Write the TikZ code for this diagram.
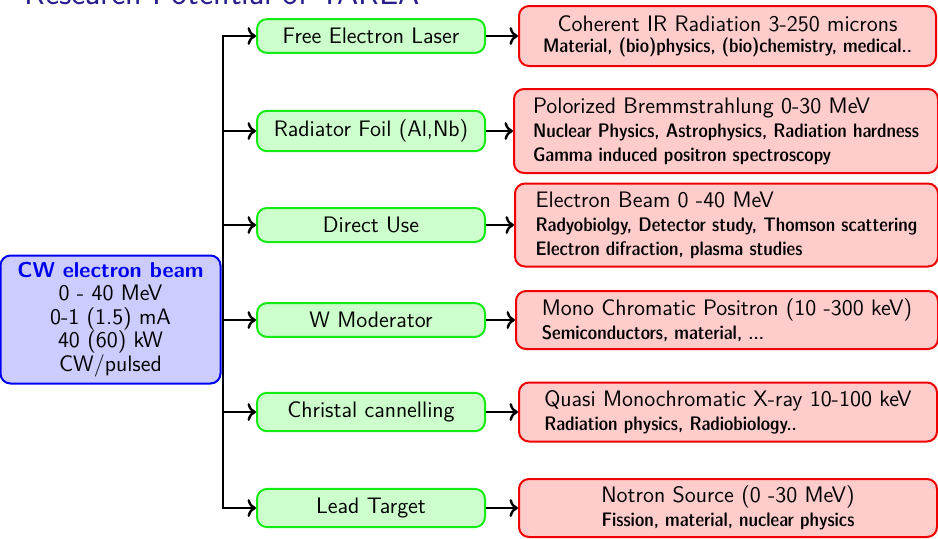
\documentclass[tikz,border=0pt]{standalone}
\usetikzlibrary{arrows.meta}
\definecolor{titleblue}{RGB}{40,30,140}
\definecolor{gfill}{RGB}{204,255,204}
\definecolor{gdraw}{RGB}{20,235,20}
\definecolor{rfill}{RGB}{255,204,204}
\definecolor{rdraw}{RGB}{240,0,0}
\definecolor{bfill}{RGB}{204,204,255}
\definecolor{bdraw}{RGB}{0,0,240}
\newcommand{\subl}{\fontsize{9.8}{12}\fontseries{sbc}\selectfont}
\begin{document}
\begin{tikzpicture}[x=0.5pt,y=-0.5pt,
  every node/.style={font=\sffamily\fontsize{11.2}{12}\selectfont},
  bluebox/.style={draw=bdraw, fill=bfill, line width=1pt, rounded corners=5pt,
    minimum width=110pt, minimum height=64pt, align=center, inner sep=0pt,
    font=\sffamily\fontsize{11.2}{11.75}\selectfont},
  greenbox/.style={draw=gdraw, fill=gfill, line width=1pt, rounded corners=5pt,
    minimum width=114pt, inner ysep=4.5pt},
  redbox/.style={draw=rdraw, fill=rfill, line width=1pt, rounded corners=5pt, inner sep=2pt, anchor=west},
  conn/.style={line width=1.2pt, ->},
  bus/.style={line width=1.2pt}
]
\useasboundingbox (0,0) rectangle (938,538);

\node[anchor=base west, font=\sffamily\fontsize{17}{19}\selectfont, text=titleblue, inner sep=0pt] (title) at (24,4) {Research Potential of YAREA};

\node[bluebox] (beam) at (110.5,319.5) {{\color{bdraw}\bfseries\fontsize{10.8}{11.75}\selectfont CW electron beam}\\0 - 40 MeV\\0-1 (1.5) mA\\40 (60) kW\\CW/pulsed};

\node[greenbox] (fel) at (371,36) {Free Electron Laser};
\node[greenbox] (rad) at (371,131) {Radiator Foil (Al,Nb)};
\node[greenbox] (dir) at (371,225) {Direct Use};
\node[greenbox] (wmod) at (371,320) {W Moderator};
\node[greenbox] (chr) at (371,412) {Christal cannelling};
\node[greenbox] (lead) at (371,508) {Lead Target};

\node[redbox, minimum width=208.5pt, minimum height=30pt, align=center,
  font=\sffamily\fontsize{11.2}{10.5}\selectfont] (rfel) at (518,36)
  {Coherent IR Radiation 3-250 microns\\{\subl Material, (bio)physics, (bio)chemistry, medical..}};
\node[redbox, minimum width=212pt, minimum height=42pt, align=left] (rrad) at (513,131)
  {Polorized Bremmstrahlung 0-30 MeV\\{\subl Nuclear Physics, Astrophysics, Radiation hardness}\\{\subl Gamma induced positron spectroscopy}};
\node[redbox, minimum width=211.5pt, minimum height=41.5pt, align=left] (rdir) at (514,225)
  {Electron Beam 0 -40 MeV\\{\subl Radyobiolgy, Detector study, Thomson scattering}\\{\subl Electron difraction, plasma studies}};
\node[redbox, minimum width=211pt, minimum height=29pt, align=left] (rmono) at (515,320)
  {Mono Chromatic Positron (10 -300 keV)\\{\subl Semiconductors, material, ...}};
\node[redbox, minimum width=209pt, minimum height=29.5pt, align=left] (rquasi) at (518,412)
  {Quasi Monochromatic X-ray 10-100 keV\\{\subl Radiation physics, Radiobiology..}};
\node[redbox, minimum width=209pt, minimum height=29pt, align=center] (rnot) at (518,508)
  {Notron Source (0 -30 MeV)\\{\subl Fission, material, nuclear physics}};

\coordinate (j) at (223,320);
\draw[bus] (beam.east |- j) -- (j);
\foreach \g in {fel,rad,dir,wmod,chr,lead} {
  \draw[conn] (j) |- (\g.west);
}
\draw[conn] (fel.east) -- (rfel.west);
\draw[conn] (rad.east) -- (rrad.west);
\draw[conn] (dir.east) -- (rdir.west);
\draw[conn] (wmod.east) -- (rmono.west);
\draw[conn] (chr.east) -- (rquasi.west);
\draw[conn] (lead.east) -- (rnot.west);
\end{tikzpicture}
\end{document}
